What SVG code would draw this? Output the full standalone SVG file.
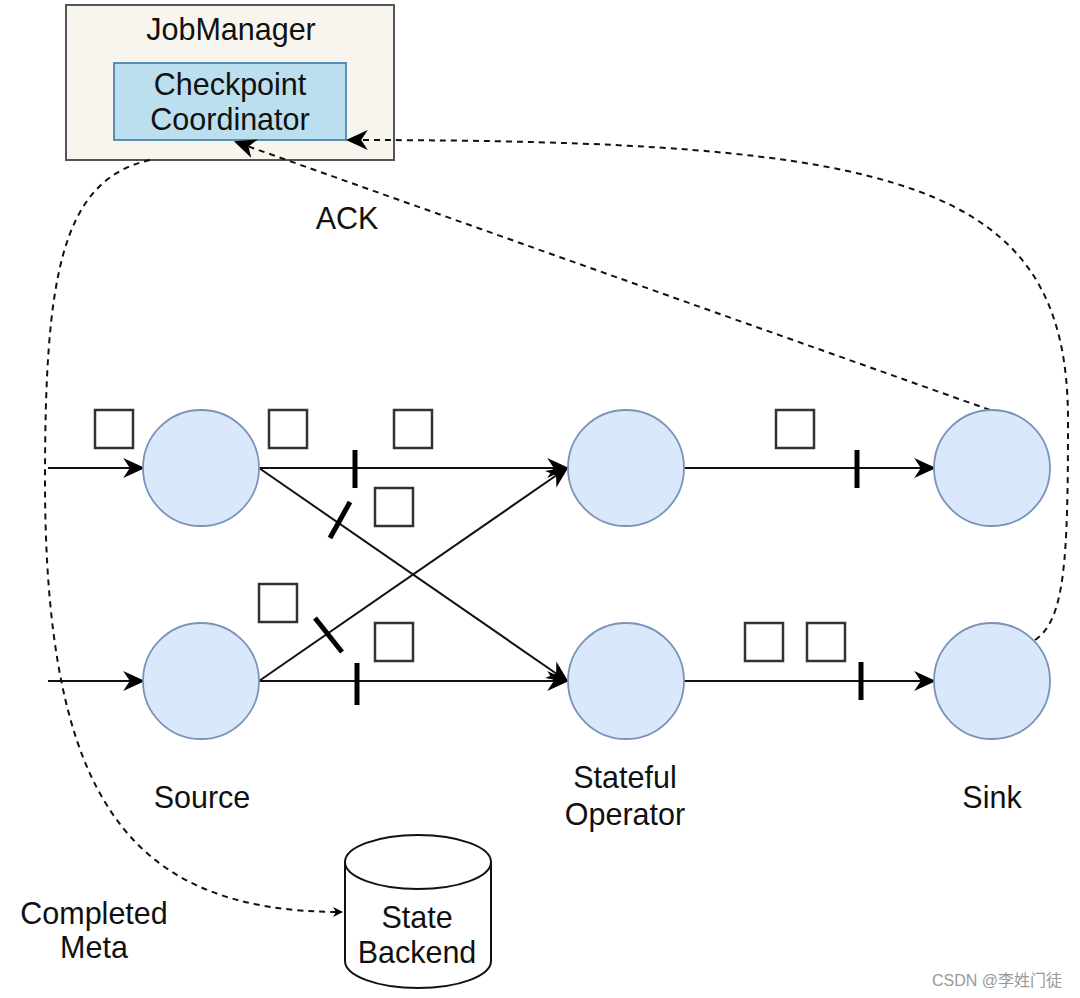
<svg xmlns="http://www.w3.org/2000/svg" width="1080" height="998" viewBox="0 0 1080 998">
<defs>
<marker id="arr" viewBox="0 0 10 10" refX="9" refY="5" markerWidth="10" markerHeight="10" markerUnits="userSpaceOnUse" orient="auto">
<path d="M0,0 L10,5 L0,10 L3,5 Z" fill="#000"/>
</marker>
<marker id="arrL" viewBox="0 0 10 10" refX="9" refY="5" markerWidth="22" markerHeight="22" markerUnits="userSpaceOnUse" orient="auto">
<path d="M0,0.5 L10,5 L0,9.5 L3,5 Z" fill="#000"/>
</marker>
</defs>
<style>
text{font-family:"Liberation Sans",Arial,sans-serif;fill:#111;text-anchor:middle}
.lbl{font-size:30.5px}
.node{fill:#dae8fc;stroke:#7b93b8;stroke-width:1.8}
.edge{stroke:#111;stroke-width:2;fill:none}
.dash{stroke:#111;stroke-width:2;fill:none;stroke-dasharray:6 5}
.bar{stroke:#000;stroke-width:5;stroke-linecap:butt}
.sq{fill:none;stroke:#333;stroke-width:2.5}
</style>
<rect width="1080" height="998" fill="#fff"/>

<g id="jobmanager">
<rect x="66" y="5" width="328" height="155" fill="#f7f5ee" stroke="#555" stroke-width="2"/>
<text class="lbl" x="231" y="40">JobManager</text>
</g>
<g id="coordinator">
<rect x="114" y="63" width="232" height="77" fill="#bcdff0" stroke="#4d86b0" stroke-width="1.8"/>
<text class="lbl" x="230" y="95">Checkpoint</text>
<text class="lbl" x="230" y="130">Coordinator</text>
</g>

<g id="connectors">
<line class="edge" x1="48" y1="468" x2="143" y2="468" marker-end="url(#arrL)"/>
<line class="edge" x1="48" y1="681" x2="143" y2="681" marker-end="url(#arrL)"/>
<line class="edge" x1="259" y1="468" x2="567" y2="468" marker-end="url(#arrL)"/>
<line class="edge" x1="259" y1="468" x2="567" y2="681" marker-end="url(#arrL)"/>
<line class="edge" x1="259" y1="681" x2="567" y2="468" marker-end="url(#arrL)"/>
<line class="edge" x1="259" y1="681" x2="567" y2="681" marker-end="url(#arrL)"/>
<line class="edge" x1="684" y1="468" x2="934" y2="468" marker-end="url(#arrL)"/>
<line class="edge" x1="684" y1="681" x2="934" y2="681" marker-end="url(#arrL)"/>
<path class="dash" d="M150,160 C60,180 45,280 45,480 C45,800 130,912 342,912" marker-end="url(#arr)"/>
<path class="dash" d="M990,410 L236,142" marker-end="url(#arrL)"/>
<path class="dash" d="M1035,640 C1065,620 1068,560 1068,420 C1068,180 900,140 348,140" marker-end="url(#arrL)"/>
</g>

<g id="barriers">
<line class="bar" x1="355" y1="450" x2="355" y2="488"/>
<line class="bar" x1="350" y1="502" x2="330" y2="538"/>
<line class="bar" x1="315" y1="618" x2="342" y2="652"/>
<line class="bar" x1="357" y1="663" x2="357" y2="705"/>
<line class="bar" x1="857" y1="450" x2="857" y2="488"/>
<line class="bar" x1="861" y1="662" x2="861" y2="700"/>
</g>

<g id="records">
<rect class="sq" x="95" y="410" width="38" height="38"/>
<rect class="sq" x="269" y="410" width="38" height="38"/>
<rect class="sq" x="394" y="410" width="38" height="38"/>
<rect class="sq" x="375" y="488" width="38" height="38"/>
<rect class="sq" x="259" y="584" width="38" height="38"/>
<rect class="sq" x="375" y="623" width="38" height="38"/>
<rect class="sq" x="776" y="410" width="38" height="38"/>
<rect class="sq" x="745" y="623" width="38" height="38"/>
<rect class="sq" x="807" y="623" width="38" height="38"/>
</g>

<g id="source1"><circle class="node" cx="201" cy="468" r="58"/></g>
<g id="source2"><circle class="node" cx="201" cy="681" r="58"/></g>
<g id="stateful1"><circle class="node" cx="626" cy="468" r="58"/></g>
<g id="stateful2"><circle class="node" cx="626" cy="681" r="58"/></g>
<g id="sink1"><circle class="node" cx="992" cy="468" r="58"/></g>
<g id="sink2"><circle class="node" cx="992" cy="681" r="58"/></g>

<g id="labels">
<text class="lbl" x="202" y="808">Source</text>
<text class="lbl" x="625" y="788">Stateful</text>
<text class="lbl" x="625" y="825">Operator</text>
<text class="lbl" x="992" y="808">Sink</text>
<text class="lbl" x="347" y="229">ACK</text>
<text class="lbl" x="94" y="924">Completed</text>
<text class="lbl" x="94" y="958">Meta</text>
</g>

<g id="statebackend">
<path d="M345,862 L345,961 A73,27 0 0 0 491,961 L491,862" fill="#fff" stroke="#111" stroke-width="2"/>
<ellipse cx="418" cy="862" rx="73" ry="27" fill="#fff" stroke="#111" stroke-width="2"/>
<text class="lbl" x="417" y="928">State</text>
<text class="lbl" x="417" y="963">Backend</text>
</g>

<text x="997" y="986" style="font-size:16px;fill:#999;font-family:'Liberation Sans','Noto Sans CJK SC',sans-serif">CSDN @李姓门徒</text>
</svg>
